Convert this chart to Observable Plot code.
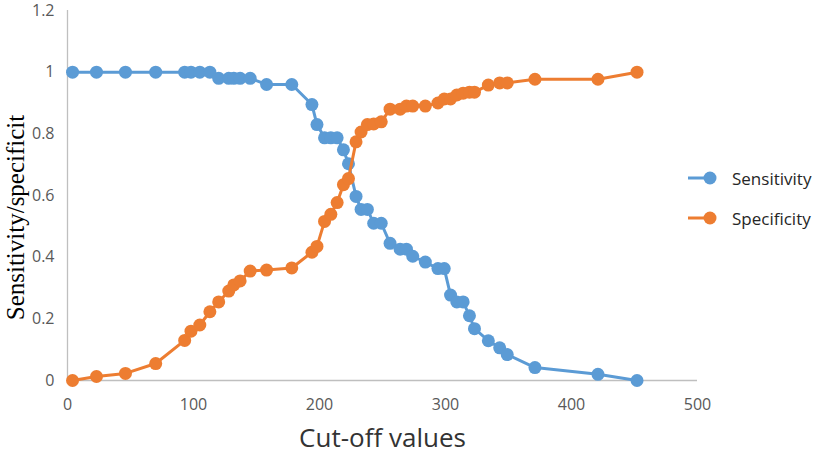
<!DOCTYPE html>
<html>
<head>
<meta charset="utf-8">
<script src="https://cdn.jsdelivr.net/npm/d3@7"></script>
<script src="https://cdn.jsdelivr.net/npm/@observablehq/plot@0.6"></script>
<style>
  html, body { margin: 0; padding: 0; background: #fff; }
  #wrap { position: relative; width: 823px; height: 459px; }
  #legend { position: absolute; left: 686px; top: 158px; font-family: "Open Sans", sans-serif; font-size: 17px; color: #262626; }
  #legend .item { display: flex; align-items: center; height: 40px; }
  #legend svg { margin-right: 12px; }
</style>
</head>
<body>
<div id="wrap"></div>
<script>
const cutoffs = [4,23,46,70,93,98,105,113,120,128,132,137,145,158,178,194,198,204,209,214,219,223,229,233,238,243,249,256,264,269,274,284,294,299,304,309,314,319,323,334,343,349,371,421,452];
const sensitivity = [1,1,1,1,1,1,1,1,0.98,0.98,0.98,0.98,0.98,0.96,0.96,0.895,0.83,0.787,0.787,0.787,0.748,0.703,0.597,0.555,0.555,0.51,0.51,0.445,0.426,0.426,0.403,0.384,0.363,0.363,0.277,0.255,0.255,0.21,0.168,0.129,0.106,0.084,0.042,0.02,0];
const specificity = [0,0.013,0.023,0.055,0.13,0.16,0.18,0.223,0.255,0.29,0.31,0.323,0.355,0.358,0.365,0.416,0.435,0.516,0.539,0.577,0.635,0.655,0.774,0.806,0.83,0.832,0.839,0.88,0.88,0.89,0.89,0.89,0.9,0.913,0.913,0.926,0.932,0.935,0.935,0.958,0.965,0.965,0.977,0.977,1];
const xTicks = [0,100,200,300,400,500];
const yTicks = [0,0.2,0.4,0.6,0.8,1,1.2];
const seriesNames = ["Sensitivity","Specificity"];
const seriesColors = ["#5B9BD5","#ED7D31"];
const xLabel = "Cut-off values";
const yLabel = "Sensitivity/specificit";

const sens = cutoffs.map((c, i) => ({x: c, y: sensitivity[i]}));
const spec = cutoffs.map((c, i) => ({x: c, y: specificity[i]}));

const chart = Plot.plot({
  width: 823,
  height: 459,
  marginLeft: 67,
  marginRight: 126,
  marginTop: 10,
  marginBottom: 79,
  style: {fontFamily: "'Open Sans', sans-serif", fontSize: "16px", color: "#595959", background: "#fff"},
  x: {domain: [0, 500]},
  y: {domain: [0, 1.2]},
  marks: [
    Plot.ruleX([0], {stroke: "#bfbfbf", strokeWidth: 1.3}),
    Plot.ruleY([0], {stroke: "#bfbfbf", strokeWidth: 1.3}),
    Plot.axisX({ticks: xTicks, tickSize: 0, tickPadding: 18, label: null, tickFormat: d => String(d), fill: "#595959"}),
    Plot.axisY({ticks: yTicks, tickSize: 0, tickPadding: 13, label: null, tickFormat: d => String(d), fill: "#595959"}),
    Plot.line(sens, {x: "x", y: "y", stroke: seriesColors[0], strokeWidth: 3}),
    Plot.dot(sens, {x: "x", y: "y", r: 6.5, fill: seriesColors[0]}),
    Plot.line(spec, {x: "x", y: "y", stroke: seriesColors[1], strokeWidth: 3}),
    Plot.dot(spec, {x: "x", y: "y", r: 6.5, fill: seriesColors[1]}),
    Plot.text([xLabel], {frameAnchor: "bottom", dy: 66, fontSize: 26, fill: "#333", fontFamily: "'Open Sans', sans-serif"}),
    Plot.text([yLabel], {frameAnchor: "left", textAnchor: "middle", rotate: -90, dx: -52, dy: 22, fontSize: 25, fill: "#000", fontFamily: "'Liberation Serif', serif"})
  ]
});
const wrap = document.getElementById("wrap");
wrap.appendChild(chart);

const legend = document.createElement("div");
legend.id = "legend";
seriesNames.forEach((name, i) => {
  const item = document.createElement("div");
  item.className = "item";
  item.innerHTML = `<svg width="34" height="16"><line x1="2" y1="8" x2="30" y2="8" stroke="${seriesColors[i]}" stroke-width="3"/><circle cx="24" cy="8" r="6.5" fill="${seriesColors[i]}"/></svg><span>${name}</span>`;
  legend.appendChild(item);
});
wrap.appendChild(legend);
</script>
</body>
</html>
